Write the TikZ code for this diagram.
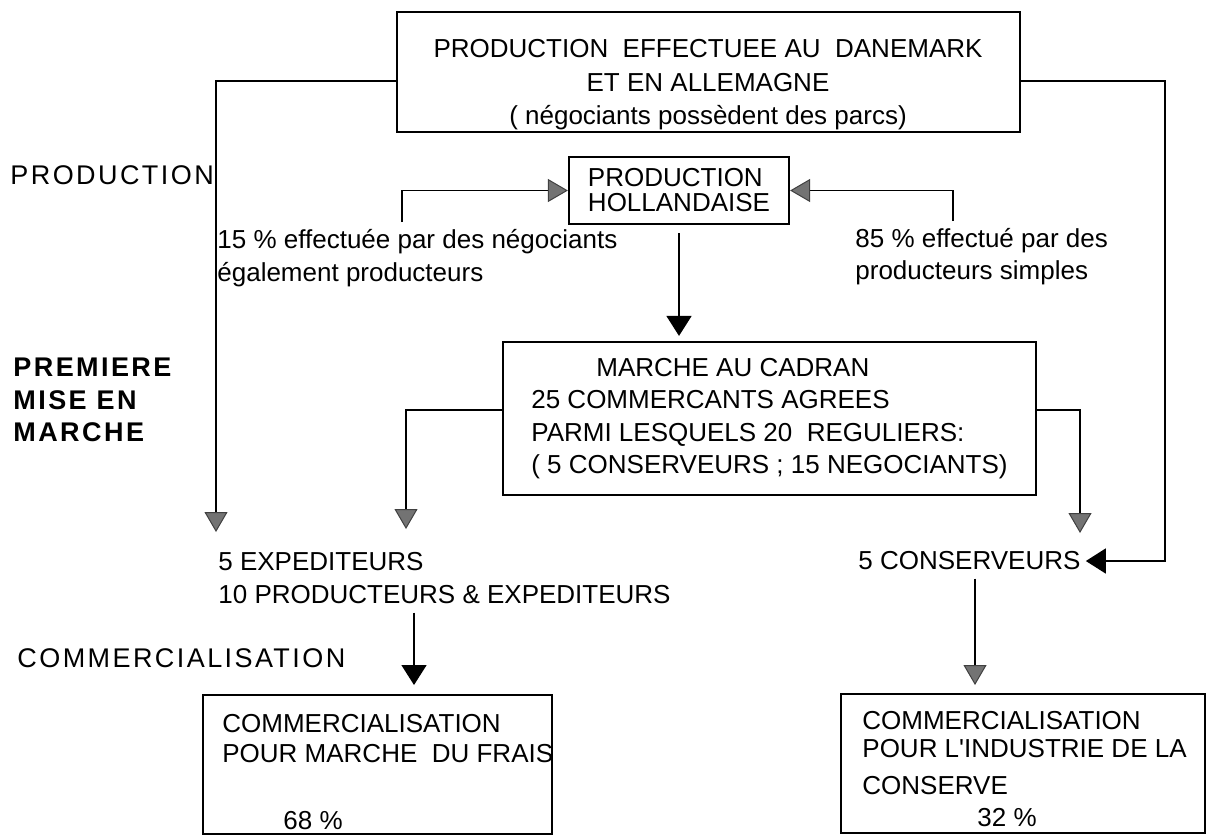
\documentclass[tikz,border=0pt]{standalone}
\usepackage{fontspec}
\setmainfont{Liberation Sans}
\newfontfamily\labelfont{Liberation Sans}[LetterSpace=9]
\usetikzlibrary{arrows.meta}

\tikzset{
    panel/.style={draw, line width=1.1pt, inner sep=0pt},
    txt/.style={inner sep=0pt, align=left, font=\fontsize{13}{16.5}\selectfont},
    phase/.style={inner sep=0pt, align=left, anchor=west, font=\labelfont\fontsize{13.5}{16.25}\selectfont},
    greytip/.style={line width=0.8pt, -{Triangle[width=11.5pt,length=10pt,fill=black!55,color=black!75,line width=0.5pt]}},
    blacktip/.style={line width=0.8pt, -{Triangle[width=12.5pt,length=10pt]}},
}

\begin{document}
\begin{tikzpicture}[x=0.5pt, y=-0.5pt]
    \useasboundingbox (0,0) rectangle (1229,836);

    \node[panel, minimum width=311.5pt, minimum height=60pt] (danemark) at (708.5,72) {};
    \node[txt, align=center, anchor=north, font=\fontsize{13}{16.75}\selectfont] (danemarktxt) at (708,39) {PRODUCTION\ \ EFFECTUEE AU\ \ DANEMARK\\ET EN ALLEMAGNE\\( négociants possèdent des parcs)};
    \node[panel, minimum width=110pt, minimum height=33.5pt, align=left, font=\fontsize{13}{12.5}\selectfont] (hollande) at (679,190.5) {PRODUCTION\\HOLLANDAISE};
    \node[panel, minimum width=266.5pt, minimum height=76.5pt, align=left, font=\fontsize{13}{16.25}\selectfont] (cadran) at (769.5,418.5) {\hspace*{32.5pt}MARCHE AU CADRAN\\25 COMMERCANTS AGREES\\PARMI LESQUELS 20\ \ REGULIERS:\\( 5 CONSERVEURS ; 15 NEGOCIANTS)};

    \node[txt, anchor=west] (negoc) at (217,258) {15 \% effectuée par des négociants\\également producteurs};
    \node[txt, anchor=west, font=\fontsize{13}{16}\selectfont] (simples) at (855,257) {85 \% effectué par des\\producteurs simples};
    \node[txt, anchor=west] (expediteurs) at (218,578.5) {5 EXPEDITEURS\\10 PRODUCTEURS \& EXPEDITEURS};
    \node[txt, anchor=west] (conserveurs) at (858,561) {5 CONSERVEURS};

    \node[panel, minimum width=174.5pt, minimum height=69.5pt] (frais) at (377.5,764.5) {};
    \node[txt, anchor=north west, font=\fontsize{13}{15}\selectfont] (fraistxt) at (222,714) {COMMERCIALISATION\\POUR MARCHE\ \ DU FRAIS\\[18.5pt]\hspace*{30.5pt}68 \%};
    \node[panel, minimum width=182pt, minimum height=69.5pt] (industrie) at (1023,763.5) {};
    \node[txt, anchor=north west, font=\fontsize{13}{14}\selectfont] (industrietxt) at (862,711) {COMMERCIALISATION\\POUR L\textquotesingle INDUSTRIE DE LA\\[4.5pt]CONSERVE\\[2pt]\hspace*{57.5pt}32 \%};

    \node[phase] (prodlabel) at (10,175) {PRODUCTION};
    \node[phase, font=\labelfont\bfseries\fontsize{13.5}{16.25}\selectfont] (miselabel) at (13,400) {PREMIERE\\MISE EN\\MARCHE};
    \node[phase] (commlabel) at (17,658) {COMMERCIALISATION};

    \coordinate (tipexp) at (216,532);
    \coordinate (tipmid) at (406,529);
    \coordinate (tipcons) at (1080,533);
    \coordinate (outer) at (1165,561);
    \coordinate (negocup) at (402,222);
    \coordinate (simpleup) at (953,221);
    \coordinate (fraistop) at (414,685);
    \coordinate (industop) at (975,685);

    \draw[greytip] ([yshift=-4.5pt]danemark.west) -| (tipexp);
    \draw[blacktip, shorten >=2.5pt] ([yshift=-4.5pt]danemark.east) -| (outer) -- (conserveurs.east);
    \draw[greytip] (negocup) |- (hollande.west);
    \draw[greytip] (simpleup) |- (hollande.east);
    \draw[blacktip, shorten <=4pt, shorten >=2.5pt] (hollande.south) -- (hollande.south |- cadran.north);
    \draw[greytip] ([yshift=4.25pt]cadran.west) -| (tipmid);
    \draw[greytip] ([yshift=4.25pt]cadran.east) -| (tipcons);
    \draw[blacktip, shorten <=4pt] (expediteurs.south -| fraistop) -- (fraistop);
    \draw[greytip, shorten <=4pt] (conserveurs.south -| industop) -- (industop);
\end{tikzpicture}
\end{document}
